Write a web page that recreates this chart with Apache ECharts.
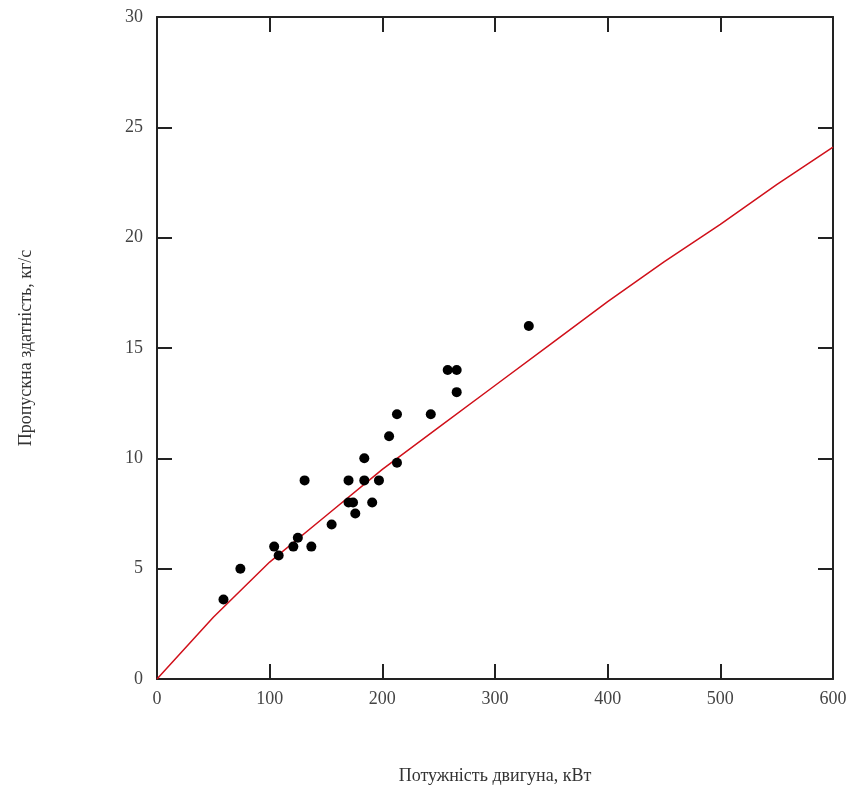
<!DOCTYPE html>
<html lang="uk">
<head>
  <meta charset="UTF-8">
  <title>Пропускна здатність</title>
  <script src="https://cdn.jsdelivr.net/npm/echarts@6/dist/echarts.min.js"></script>
  <style>
    html, body { margin: 0; padding: 0; background: #fff; }
  </style>
</head>
<body>
  <div id="app" style="width: 854px; height: 792px;"></div>
  <script>
    // точки: потужність двигуна (кВт) -> пропускна здатність (кг/с)
    var power = [59, 74, 104, 108, 121, 125, 131, 137, 155, 170, 170, 174, 176, 184, 184, 191, 197, 206, 213, 213, 243, 258, 266, 266, 330]
    var capacity = [3.6, 5, 6, 5.6, 6, 6.4, 9, 6, 7, 9, 8, 8, 7.5, 10, 9, 8, 9, 11, 12, 9.8, 12, 14, 14, 13, 16]

    // червона лінія
    var lineX = [0, 50, 100, 150, 200, 250, 300, 350, 400, 450, 500, 550, 600]
    var lineY = [0, 2.8, 5.3, 7.4, 9.5, 11.4, 13.3, 15.2, 17.1, 18.9, 20.6, 22.4, 24.1]

    var xTicks = [0, 100, 200, 300, 400, 500, 600]
    var yTicks = [0, 5, 10, 15, 20, 25, 30]

    var points = power.map(function (p, i) { return [p, capacity[i]] })
    var line = lineX.map(function (x, i) { return [x, lineY[i]] })

    var font = 'Liberation Serif, Times New Roman, serif'
    var axisLine = { show: true, onZero: false, lineStyle: { color: '#222', width: 2 } }
    var tick = { show: true, inside: true, length: 15, lineStyle: { color: '#222', width: 2 } }

    var chart = echarts.init(document.querySelector('#app'))
    chart.setOption({
      animation: false,
      grid: { left: 157, right: 21, top: 17, bottom: 113 },
      xAxis: [{
        type: 'value',
        min: xTicks[0],
        max: xTicks[xTicks.length - 1],
        interval: 100,
        name: 'Потужність двигуна, кВт',
        nameLocation: 'middle',
        nameGap: 88,
        nameTextStyle: { fontFamily: font, fontSize: 18, color: '#333' },
        axisLine: axisLine,
        axisTick: tick,
        axisLabel: { fontFamily: font, fontSize: 18, color: '#444', margin: 11 },
        splitLine: { show: false }
      }, {
        type: 'value',
        position: 'top',
        min: 0, max: 600, interval: 100,
        axisLine: axisLine,
        axisTick: tick,
        axisLabel: { show: false },
        splitLine: { show: false }
      }],
      yAxis: [{
        type: 'value',
        min: yTicks[0],
        max: yTicks[yTicks.length - 1],
        interval: 5,
        name: 'Пропускна здатність, кг/с',
        nameLocation: 'middle',
        nameGap: 122,
        nameTextStyle: { fontFamily: font, fontSize: 18, color: '#333' },
        axisLine: axisLine,
        axisTick: tick,
        axisLabel: { fontFamily: font, fontSize: 18, color: '#444', margin: 14 },
        splitLine: { show: false }
      }, {
        type: 'value',
        position: 'right',
        min: 0, max: 30, interval: 5,
        axisLine: axisLine,
        axisTick: tick,
        axisLabel: { show: false },
        splitLine: { show: false }
      }],
      series: [{
        type: 'line',
        data: line,
        smooth: false,
        symbol: 'none',
        lineStyle: { color: '#d0101a', width: 1.5 },
        z: 2
      }, {
        type: 'scatter',
        data: points,
        symbolSize: 10,
        itemStyle: { color: '#000', opacity: 1 },
        z: 3
      }]
    })
  </script>
</body>
</html>
